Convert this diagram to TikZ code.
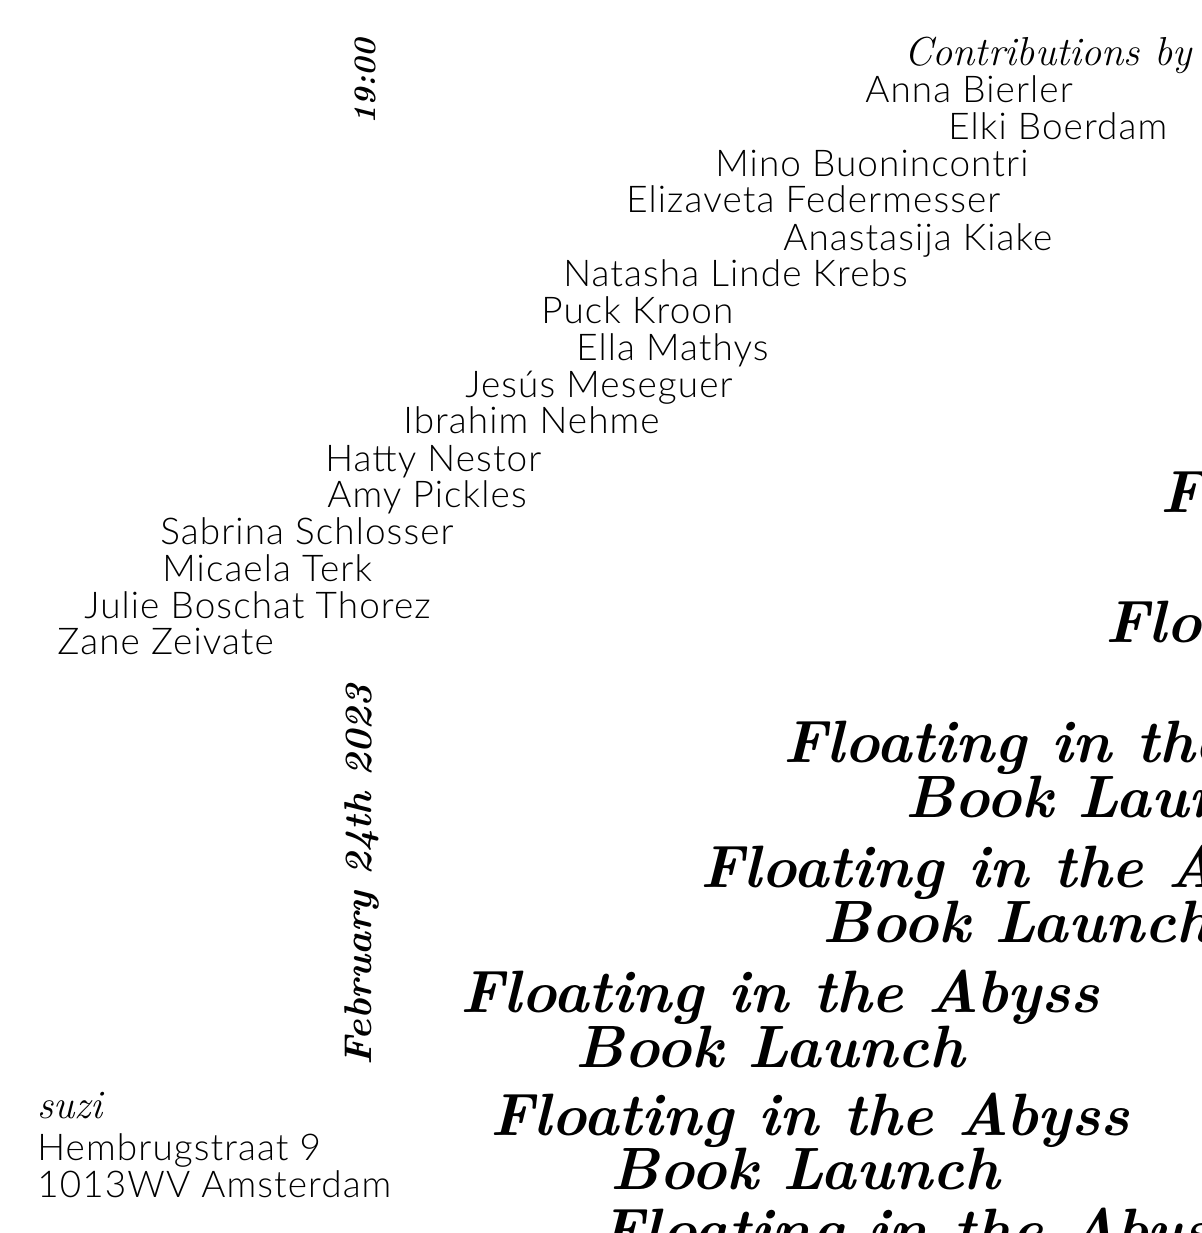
\documentclass[tikz,border=0pt]{standalone}
\usepackage{fontspec}
\usepackage{graphicx}
\IfFontExistsTF{Lato Light}{\newfontfamily\namefont[LetterSpace=3]{Lato Light}}{\newfontfamily\namefont[LetterSpace=3]{Lato}}
\newcommand\launchfont{\fontsize{34}{40}\bfseries\itshape\selectfont}

\begin{document}
\begin{tikzpicture}[x=0.02cm, y=-0.02cm,
	names/.style={font=\namefont\fontsize{21}{24}\selectfont, inner sep=0pt, anchor=base west},
	serif/.style={font=\fontsize{23}{28}\itshape\selectfont, inner sep=0pt},
	launch/.style={font=\launchfont, inner sep=0pt, anchor=base west}]
	\useasboundingbox (0,0) rectangle (1201,1233);
	\clip (0,0) rectangle (1201,1233);
	% time and date
	\node [rotate=90, inner sep=0pt] (time) at (365,82) {\resizebox{1.7cm}{!}{\bfseries\itshape 19:00}};
	\node [rotate=90, inner sep=0pt] (date) at (362,875) {\resizebox{7.6cm}{!}{\bfseries\itshape February 24th 2023}};
	% contributors
	\node [serif, anchor=base east] (contrib) at (1192,66) {Contributions by};
	\node [names] (bierler) at (865,103) {Anna Bierler};
	\node [names] (boerdam) at (948,140) {Elki Boerdam};
	\node [names] (buonincontri) at (715,176) {Mino Buonincontri};
	\node [names] (federmesser) at (626,213) {Elizaveta Federmesser};
	\node [names] (kiake) at (783,250) {Anastasija Kiake};
	\node [names] (krebs) at (563,286) {Natasha Linde Krebs};
	\node [names] (kroon) at (541,323) {Puck Kroon};
	\node [names] (mathys) at (576,360) {Ella Mathys};
	\node [names] (meseguer) at (465,397) {Jesús Meseguer};
	\node [names] (nehme) at (403,433) {Ibrahim Nehme};
	\node [names] (nestor) at (325,471) {Hatty Nestor};
	\node [names] (pickles) at (327,507) {Amy Pickles};
	\node [names] (schlosser) at (160,544) {Sabrina Schlosser};
	\node [names] (terk) at (162,581) {Micaela Terk};
	\node [names] (thorez) at (84,618) {Julie Boschat Thorez};
	\node [names] (zeivate) at (57,654) {Zane Zeivate};
	% venue
	\node [serif, anchor=base west] (venue) at (37,1118) {suzi};
	\node [names] (street) at (37,1160) {Hembrugstraat 9};
	\node [names] (city) at (37,1197) {1013WV Amsterdam};
	% title, repeated
	\node [launch] (float1) at (1160,512) {Floating in the Abyss};
	\node [launch] (float2) at (1105,642) {Floating in the Abyss};
	\node [launch] (float3) at (783,762) {Floating in the Abyss};
	\node [launch] (book3) at (905,817) {Book Launch};
	\node [launch] (float4) at (700,887) {Floating in the Abyss};
	\node [launch] (book4) at (822,942) {Book Launch};
	\node [launch] (float5) at (460,1012) {Floating in the Abyss};
	\node [launch] (book5) at (575,1067) {Book Launch};
	\node [launch] (float6) at (490,1135) {Floating in the Abyss};
	\node [launch] (book6) at (610,1189) {Book Launch};
	\node [launch] (float7) at (600,1250) {Floating in the Abyss};
\end{tikzpicture}
\end{document}
